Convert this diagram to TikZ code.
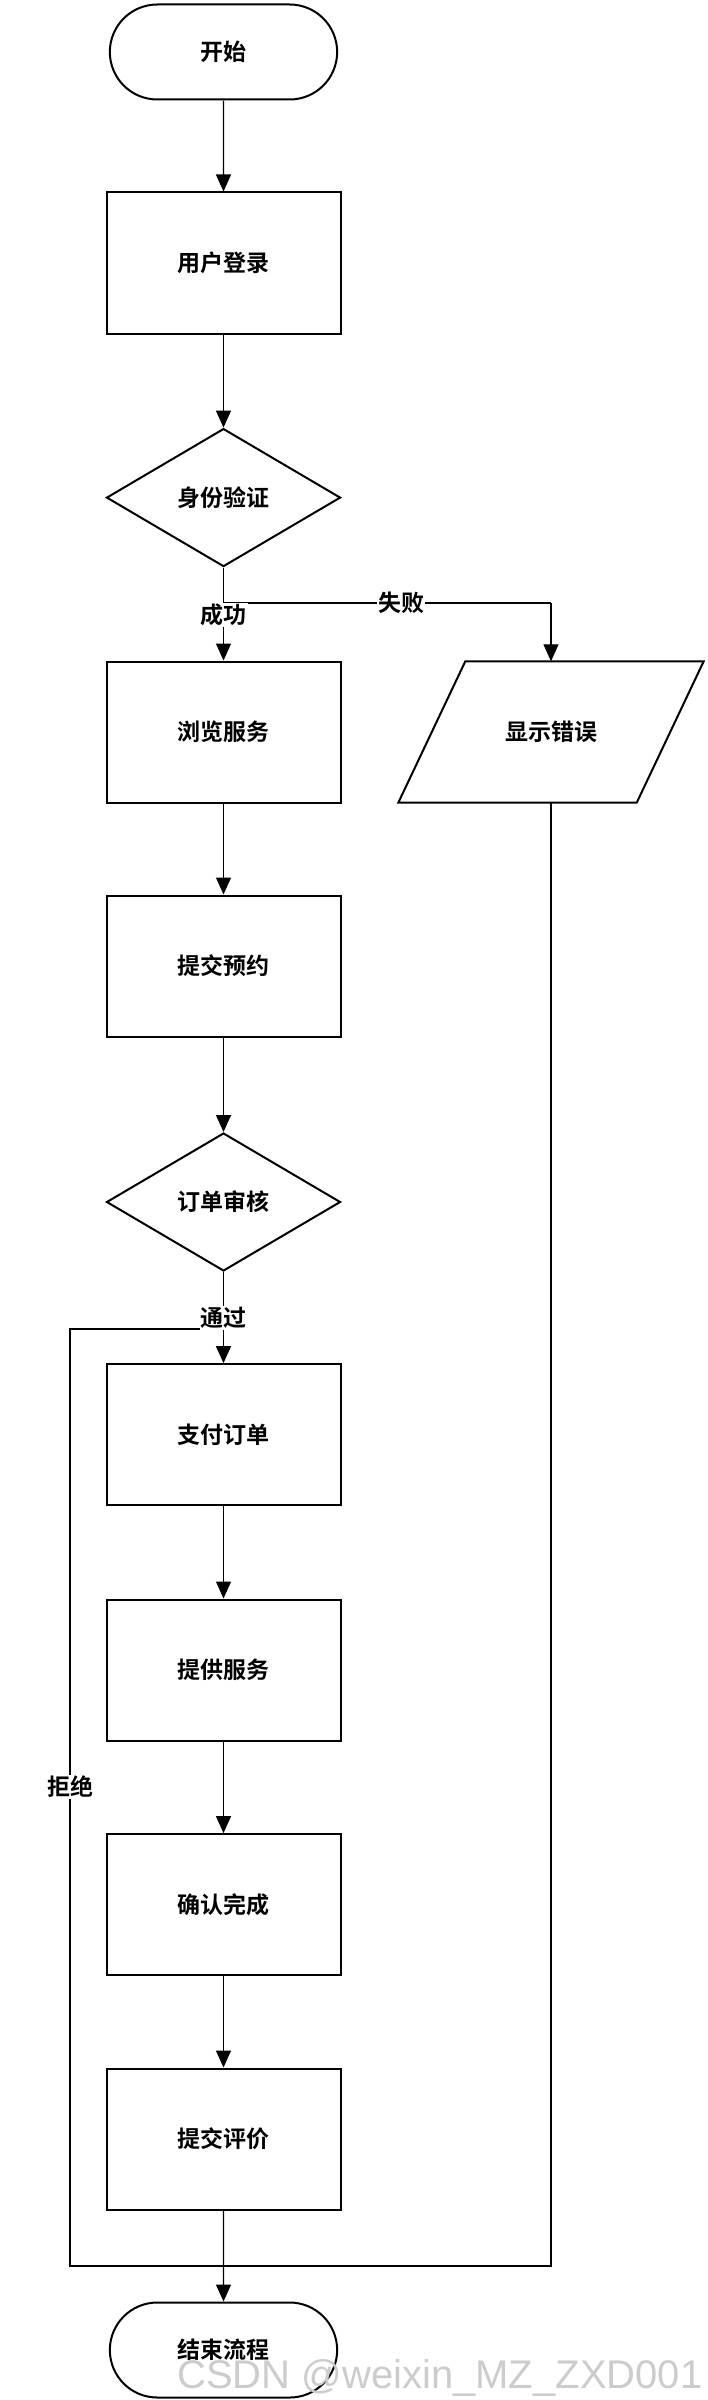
\documentclass[tikz,border=0pt]{standalone}
\usepackage{fontspec}
\newfontfamily\cjk{Noto Sans CJK SC}[BoldFont={Noto Sans CJK SC Bold}]
\setmainfont{Liberation Sans}
\usetikzlibrary{arrows.meta,shapes.geometric,shapes.misc}
\begin{document}
\begin{tikzpicture}[x=1pt,y=1pt,
  every node/.style={font=\cjk\bfseries\fontsize{23}{26}\selectfont},
  box/.style={draw,line width=2pt,minimum width=234pt,minimum height=141pt},
  term/.style={draw,line width=2pt,rounded rectangle,minimum width=234pt,minimum height=95pt},
  dec/.style={draw,line width=2pt,diamond,aspect=1.7,minimum width=234pt,minimum height=138pt,inner sep=0pt},
  ar/.style={line width=1.3pt,-{Triangle[length=17pt,width=15pt]}},
  ln/.style={line width=1.3pt},
  lab/.style={fill=white,inner sep=1pt}]
\useasboundingbox (0,0) rectangle (708,-2400);
\node[term] (start) at (223.5,-52) {开始};
\node[box] (login) at (223.5,-263) {用户登录};
\node[dec] (auth) at (223.5,-497.6) {身份验证};
\node[box] (browse) at (223.5,-732) {浏览服务};
\node[minimum width=305pt,minimum height=141pt] (err) at (551,-732) {显示错误};
\draw[line width=2pt] ([xshift=67pt]err.north west) -- (err.north east) -- ([xshift=-67pt]err.south east) -- (err.south west) -- cycle;
\node[box] (submit) at (223.5,-966) {提交预约};
\node[dec] (review) at (223.5,-1202) {订单审核};
\node[box] (pay) at (223.5,-1434.6) {支付订单};
\node[box] (serve) at (223.5,-1670) {提供服务};
\node[box] (confirm) at (223.5,-1904.6) {确认完成};
\node[box] (rate) at (223.5,-2139) {提交评价};
\node[term] (end) at (223.5,-2350) {结束流程};
\coordinate (b1) at (223.5,-603);
\coordinate (b2) at (551,-603);
\coordinate (r1) at (223.5,-1329);
\coordinate (r2) at (70,-1329);
\coordinate (r3) at (70,-2266);
\coordinate (r4) at (551,-2266);
\draw[ar] (start) -- (login);
\draw[ar] (login) -- (auth);
\draw[ar] (auth) -- (browse);
\draw[ln] (b1) -- (b2);
\draw[ar] (b2) -- (err.north);
\node[lab] at (223.5,-615) {成功};
\node[lab] at (401,-603) {失败};
\draw[ar] (browse) -- (submit);
\draw[ar] (submit) -- (review);
\draw[ar] (review) -- (pay);
\draw[ln] (r1) -- (r2) -- (r3) -- (r4) -- (err.south);
\node[lab] at (223.5,-1318) {通过};
\node[lab] at (70,-1787) {拒绝};
\draw[ar] (pay) -- (serve);
\draw[ar] (serve) -- (confirm);
\draw[ar] (confirm) -- (rate);
\draw[ar] (rate) -- (end);
\node[font=\fontsize{40}{44}\selectfont\rmfamily, text=black!20, anchor=east] at (706,-2378) {CSDN @weixin\_MZ\_ZXD001};
\end{tikzpicture}
\end{document}
